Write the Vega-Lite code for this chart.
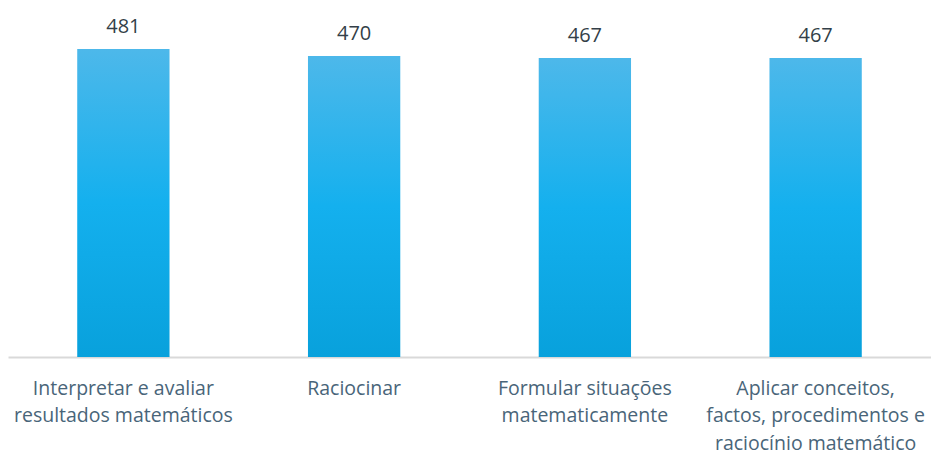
{
  "$schema": "https://vega.github.io/schema/vega-lite/v6.json",
  "width": 923,
  "height": 357,
  "autosize": "none",
  "padding": {"left": 8, "top": 0, "right": 0, "bottom": 98},
  "background": "white",
  "config": {"view": {"stroke": null}, "font": "Open Sans"},
  "data": {"values": [
    {"cat": "Interpretar e avaliar|resultados matemáticos", "value": 481},
    {"cat": "Raciocinar", "value": 470},
    {"cat": "Formular situações|matematicamente", "value": 467},
    {"cat": "Aplicar conceitos,|factos, procedimentos e|raciocínio matemático", "value": 467}
  ]},
  "encoding": {
    "x": {"field": "cat", "type": "nominal", "sort": null,
      "scale": {"paddingInner": 0.6, "paddingOuter": 0.3},
      "axis": {"title": null, "labelAngle": 0, "ticks": false, "domainColor": "#d9d9d9", "domainWidth": 2,
        "labelExpr": "split(datum.value, '|')", "labelFontSize": 19.5, "labelColor": "#496579",
        "labelLineHeight": 27.5, "labelPadding": 22, "labelFont": "Open Sans", "labelLimit": 300}},
    "y": {"field": "value", "type": "quantitative", "scale": {"domain": [0, 557.5], "nice": false}, "axis": null}
  },
  "layer": [
    {"mark": {"type": "bar", "color": {"gradient": "linear", "x1": 0, "y1": 0, "x2": 0, "y2": 1,
      "stops": [{"offset": 0, "color": "#4db8ea"}, {"offset": 0.5, "color": "#14b0ee"}, {"offset": 1, "color": "#08a1dc"}]}}},
    {"mark": {"type": "text", "baseline": "bottom", "dy": -12, "fontSize": 20, "color": "#333f48", "font": "Open Sans"},
      "encoding": {"text": {"field": "value", "type": "quantitative"}}}
  ]
}
